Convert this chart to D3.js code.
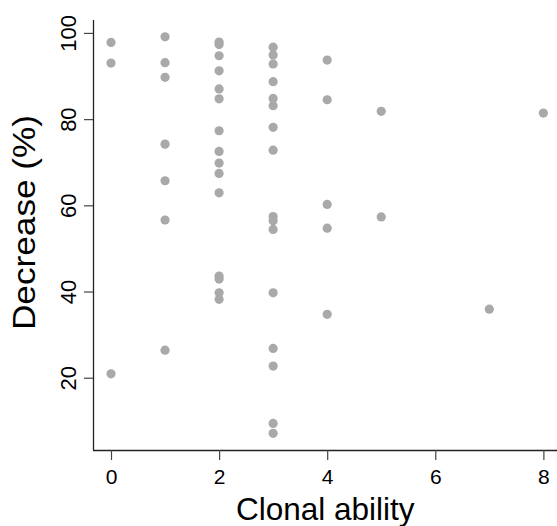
<!DOCTYPE html>
<html>
<head>
<meta charset="utf-8">
<script src="https://cdn.jsdelivr.net/npm/d3@7/dist/d3.min.js"></script>
<style>
  html, body { margin: 0; padding: 0; background: #fff; }
  svg { display: block; font-family: "Liberation Sans", Arial, sans-serif; }
</style>
</head>
<body>
<svg id="chart" width="557" height="526"></svg>
<script>
// Clonal ability score of each species and its percentage decrease
const clonal = [
  0, 0, 0,
  1, 1, 1, 1, 1, 1, 1,
  2, 2, 2, 2, 2, 2, 2, 2, 2, 2, 2, 2, 2, 2, 2,
  3, 3, 3, 3, 3, 3, 3, 3, 3, 3, 3, 3, 3, 3, 3, 3,
  4, 4, 4, 4, 4,
  5, 5,
  7,
  8
];
const decrease = [
  97.8, 93.0, 20.9,
  99.1, 93.1, 89.7, 74.2, 65.7, 56.6, 26.4,
  97.9, 97.3, 94.7, 91.2, 87.0, 84.7, 77.3, 72.5, 69.8, 67.4, 62.9, 43.6, 42.9, 39.7, 38.2,
  96.7, 94.9, 92.8, 88.7, 84.8, 83.1, 78.1, 72.8, 57.4, 56.4, 54.4, 39.7, 26.8, 22.7, 9.4, 7.1,
  93.7, 84.5, 60.2, 54.7, 34.7,
  81.8, 57.3,
  35.9,
  81.4
];
const xTicks = [0, 2, 4, 6, 8];
const yTicks = [20, 40, 60, 80, 100];

const svg = d3.select("#chart");
const plotLeft = 93, plotRight = 557, plotTop = 20, plotBottom = 450;

const x = d3.scaleLinear().domain([-0.333, 8.252]).range([plotLeft, plotRight]);
const y = d3.scaleLinear().domain([3.23, 103.0]).range([plotBottom, plotTop]);

// points
svg.append("g")
  .selectAll("circle")
  .data(clonal.map((c, i) => ({ c, d: decrease[i] })))
  .join("circle")
  .attr("cx", p => x(p.c))
  .attr("cy", p => y(p.d))
  .attr("r", 4.6)
  .attr("fill", "#a9a9a9");

// x axis
const gx = svg.append("g")
  .attr("transform", `translate(0,${plotBottom})`)
  .call(d3.axisBottom(x).tickValues(xTicks).tickSize(10).tickPadding(9).tickSizeOuter(0));
gx.select(".domain").attr("stroke", "#222").attr("stroke-width", 1.3)
  .attr("d", `M${plotLeft},0.5H${plotRight}`);
gx.selectAll(".tick line").attr("stroke", "#444").attr("stroke-width", 1.2);
gx.selectAll(".tick text").attr("font-size", 21).attr("fill", "#000");

// y axis, labels turned to read upward
const gy = svg.append("g")
  .attr("transform", `translate(${plotLeft},0)`)
  .call(d3.axisLeft(y).tickValues(yTicks).tickSize(9).tickPadding(8).tickSizeOuter(0));
gy.select(".domain").attr("stroke", "#222").attr("stroke-width", 1.3)
  .attr("d", `M0.5,${plotTop}V${plotBottom}`);
gy.selectAll(".tick line").attr("stroke", "#444").attr("stroke-width", 1.2);
gy.selectAll(".tick text")
  .attr("font-size", 22).attr("fill", "#000")
  .attr("x", null).attr("dy", null)
  .attr("text-anchor", "middle")
  .attr("transform", "translate(-17,0) rotate(-90)")
  .attr("y", 0);

// axis titles
svg.append("text")
  .attr("x", (x(0) + x(8)) / 2 - 2)
  .attr("y", 520)
  .attr("text-anchor", "middle")
  .attr("font-size", 31.5)
  .attr("fill", "#000")
  .text("Clonal ability");

svg.append("text")
  .attr("transform", "translate(35,222.5) rotate(-90) scale(1.1,1)")
  .attr("text-anchor", "middle")
  .attr("font-size", 32)
  .attr("fill", "#000")
  .text("Decrease (%)");
</script>
</body>
</html>
